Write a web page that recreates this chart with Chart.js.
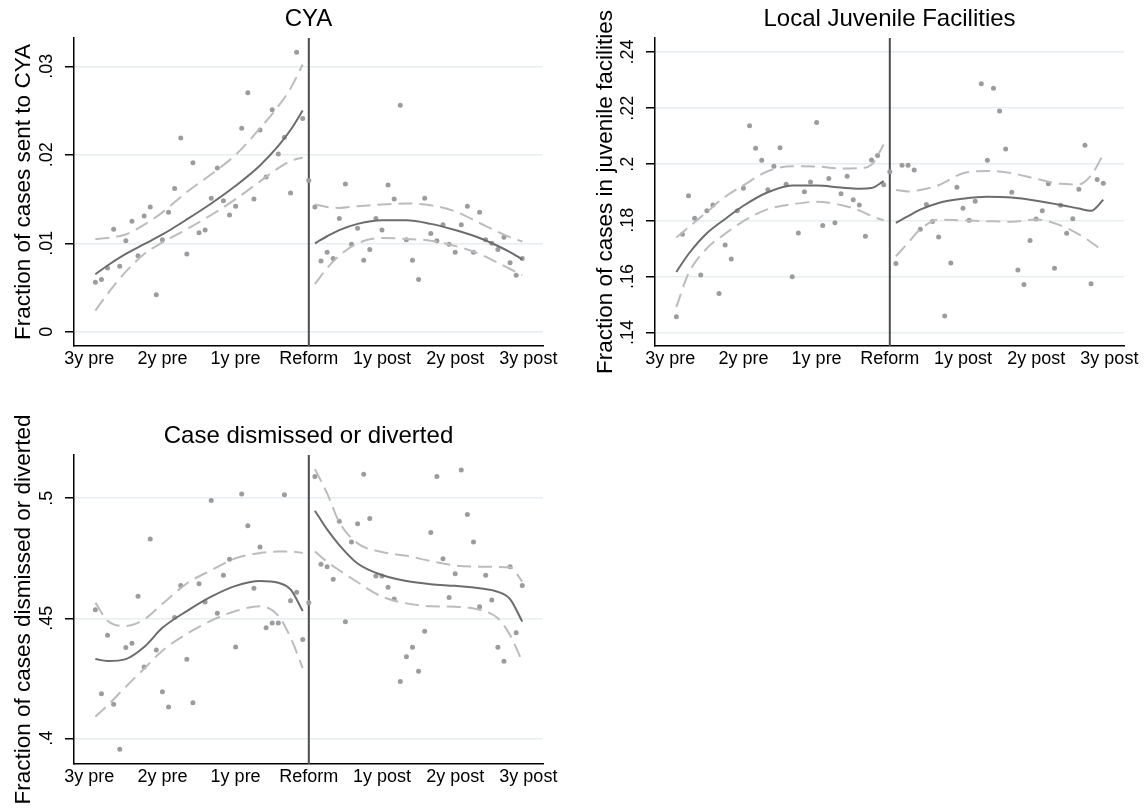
<!DOCTYPE html>
<html lang="en">
<head>
<meta charset="UTF-8">
<title>Before / after reform</title>
<script src="https://cdn.jsdelivr.net/npm/chart.js@4.4.1/dist/chart.umd.min.js"></script>
<style>
  html, body { margin: 0; padding: 0; background: #fff; }
  body { width: 1145px; height: 810px; position: relative; overflow: hidden; }
  .panel { position: absolute; }
</style>
</head>
<body>
<div class="panel" style="left:0;top:0;width:572px;height:385px"><canvas id="cya"></canvas></div>
<div class="panel" style="left:572px;top:0;width:573px;height:385px"><canvas id="juv"></canvas></div>
<div class="panel" style="left:0;top:395px;width:572px;height:415px"><canvas id="dism"></canvas></div>

<script>
// months relative to the reform
const preMonths = [-35,-34,-33,-32,-31,-30,-29,-28,-27,-26,-25,-24,-23,-22,-21,-20,-19,-18,-17,-16,-15,-14,-13,-12,-11,-10,-9,-8,-7,-6,-5,-4,-3,-2,-1,0];
const postMonths = [1,2,3,4,5,6,7,8,9,10,11,12,13,14,15,16,17,18,19,20,21,22,23,24,25,26,27,28,29,30,31,32,33,34,35];
const fitPreX = [-35,-33,-30,-27,-24,-20,-16,-12,-8,-5,-3,-1];
const fitPostX = [1,3,5,8,12,16,20,24,28,31,33,35];

const xTickVals = [-36,-24,-12,0,12,24,36];
const xTickLabels = ['3y pre','2y pre','1y pre','Reform','1y post','2y post','3y post'];

// CYA
const cyaPre = [0.0056,0.0059,0.0072,0.0116,0.0074,0.0103,0.0125,0.0086,0.0131,0.0141,0.0042,0.0104,0.0135,0.0162,0.0219,0.0088,0.0191,0.0112,0.0115,0.0151,0.0185,0.0148,0.0132,0.0142,0.0230,0.0270,0.0150,0.0228,0.0175,0.0251,0.0201,0.0220,0.0157,0.0316,0.0241,0.0171];
const cyaPost = [0.0141,0.0080,0.0090,0.0083,0.0128,0.0167,0.0099,0.0117,0.0081,0.0093,0.0128,0.0115,0.0166,0.0150,0.0256,0.0104,0.0081,0.0059,0.0151,0.0111,0.0103,0.0121,0.0099,0.0090,0.0121,0.0142,0.0090,0.0135,0.0104,0.0100,0.0093,0.0107,0.0078,0.0064,0.0083];
const cyaPreFit = [0.0065,0.0075,0.0088,0.0099,0.0110,0.0127,0.0145,0.0165,0.0188,0.0210,0.0228,0.0250];
const cyaPreHi = [0.0105,0.0106,0.0110,0.0121,0.0135,0.0158,0.0178,0.0200,0.0230,0.0255,0.0275,0.0302];
const cyaPreLo = [0.0024,0.0043,0.0068,0.0088,0.0101,0.0116,0.0132,0.0150,0.0170,0.0185,0.0193,0.0197];
const cyaPostFit = [0.0100,0.0108,0.0115,0.0122,0.0126,0.0126,0.0122,0.0115,0.0106,0.0097,0.0090,0.0082];
const cyaPostHi = [0.0144,0.0141,0.0140,0.0142,0.0144,0.0145,0.0143,0.0136,0.0123,0.0113,0.0107,0.0102];
const cyaPostLo = [0.0054,0.0072,0.0086,0.0100,0.0106,0.0105,0.0103,0.0097,0.0088,0.0078,0.0071,0.0064];
const cyaTicks = [0, 0.01, 0.02, 0.03];
const cyaTickLabels = ['0', '.01', '.02', '.03'];

// Local juvenile facilities
const juvPre = [0.1456,0.1750,0.1888,0.1807,0.1605,0.1834,0.1855,0.1539,0.1712,0.1662,0.1834,0.1914,0.2137,0.2057,0.2014,0.1909,0.1993,0.2059,0.1929,0.1599,0.1755,0.1902,0.1937,0.2149,0.1782,0.1949,0.1791,0.1895,0.1957,0.1873,0.1855,0.1743,0.2015,0.2031,0.1927,0.1973];
const juvPost = [0.1646,0.1996,0.1996,0.1979,0.1768,0.1856,0.1796,0.1741,0.1459,0.1648,0.1918,0.1843,0.1800,0.1868,0.2287,0.2014,0.2271,0.2190,0.2054,0.1900,0.1623,0.1571,0.1728,0.1805,0.1834,0.1930,0.1629,0.1854,0.1754,0.1806,0.1911,0.2068,0.1574,0.1946,0.1932];
const juvPreFit = [0.1616,0.1680,0.1754,0.1805,0.1852,0.1900,0.1924,0.1924,0.1917,0.1913,0.1915,0.1940];
const juvPreHi = [0.1739,0.1775,0.1830,0.1884,0.1925,0.1975,0.1993,0.1992,0.1985,0.1986,0.1998,0.2070];
const juvPreLo = [0.1491,0.1611,0.1700,0.1752,0.1797,0.1840,0.1857,0.1866,0.1855,0.1835,0.1815,0.1800];
const juvPostFit = [0.1791,0.1815,0.1838,0.1862,0.1877,0.1884,0.1881,0.1870,0.1855,0.1842,0.1834,0.1873];
const juvPostHi = [0.1908,0.1903,0.1908,0.1925,0.1968,0.1976,0.1968,0.1948,0.1930,0.1928,0.1960,0.2035];
const juvPostLo = [0.1672,0.1720,0.1768,0.1802,0.1800,0.1797,0.1795,0.1803,0.1782,0.1750,0.1722,0.1690];
const juvTicks = [0.14, 0.16, 0.18, 0.2, 0.22, 0.24];
const juvTickLabels = ['.14', '.16', '.18', '.2', '.22', '.24'];

// Case dismissed or diverted
const dismPre = [0.4535,0.4186,0.4429,0.4142,0.3954,0.4378,0.4396,0.4592,0.4297,0.4830,0.4368,0.4194,0.4130,0.4503,0.4636,0.4329,0.4148,0.4644,0.4568,0.4990,0.4521,0.4679,0.4746,0.4380,0.5018,0.4885,0.4625,0.4797,0.4461,0.4480,0.4480,0.5014,0.4573,0.4608,0.4412,0.4565];
const dismPost = [0.5090,0.4725,0.4715,0.4662,0.4904,0.4485,0.4818,0.4894,0.5100,0.4915,0.4676,0.4676,0.4629,0.4580,0.4237,0.4340,0.4379,0.4279,0.4446,0.4857,0.5090,0.4748,0.4586,0.4685,0.5118,0.4932,0.4818,0.4548,0.4679,0.4576,0.4379,0.4321,0.4715,0.4440,0.4636];
const dismPreFit = [0.4330,0.4322,0.4330,0.4380,0.4460,0.4530,0.4590,0.4635,0.4655,0.4648,0.4620,0.4530];
const dismPreHi = [0.4565,0.4490,0.4468,0.4495,0.4560,0.4645,0.4700,0.4750,0.4772,0.4778,0.4778,0.4772];
const dismPreLo = [0.4090,0.4137,0.4215,0.4290,0.4365,0.4435,0.4490,0.4530,0.4550,0.4510,0.4420,0.4292];
const dismPostFit = [0.4948,0.4870,0.4805,0.4728,0.4680,0.4655,0.4642,0.4635,0.4625,0.4610,0.4580,0.4486];
const dismPostHi = [0.5121,0.5020,0.4900,0.4812,0.4776,0.4760,0.4738,0.4720,0.4715,0.4714,0.4712,0.4653];
const dismPostLo = [0.4778,0.4735,0.4700,0.4650,0.4590,0.4562,0.4550,0.4548,0.4535,0.4500,0.4430,0.4319];
const dismTicks = [0.4, 0.45, 0.5];
const dismTickLabels = ['.4', '.45', '.5'];

Chart.defaults.font.family = "'Liberation Sans', Arial, Helvetica, sans-serif";
Chart.defaults.color = '#000';
Chart.defaults.animation = false;

const DOT = '#9c9c9c';
const FIT = '#6c6c6c';
const BAND = '#bcbcbc';

function xy(xs, ys) {
  return xs.map((x, i) => ({ x: x, y: ys[i] }));
}

function curve(data, color, dash) {
  return {
    type: 'line', data: data, borderColor: color, borderWidth: 2,
    borderDash: dash, pointRadius: 0, fill: false,
    cubicInterpolationMode: 'monotone'
  };
}

function dots(data) {
  return { type: 'scatter', data: data, pointRadius: 2.5, pointBackgroundColor: DOT, pointBorderWidth: 0 };
}

function panel(id, p) {
  new Chart(document.getElementById(id), {
    type: 'scatter',
    data: {
      datasets: [
        curve(xy(fitPreX, p.preFit), FIT, []),
        curve(xy(fitPostX, p.postFit), FIT, []),
        curve(xy(fitPreX, p.preHi), BAND, [14, 7]),
        curve(xy(fitPreX, p.preLo), BAND, [14, 7]),
        curve(xy(fitPostX, p.postHi), BAND, [14, 7]),
        curve(xy(fitPostX, p.postLo), BAND, [14, 7]),
        dots(xy(preMonths, p.pre)),
        dots(xy(postMonths, p.post)),
        // reform line
        { type: 'line', data: [{ x: 0, y: p.yMin }, { x: 0, y: p.yMax }],
          borderColor: '#4d4d4d', borderWidth: 2, pointRadius: 0 }
      ]
    },
    options: {
      responsive: true,
      maintainAspectRatio: false,
      layout: { padding: { left: 0, right: p.padR, top: 0, bottom: 0 } },
      plugins: {
        legend: { display: false },
        tooltip: { enabled: false }
      },
      scales: {
        // empty top axis, only carries the panel title centred over the plot
        top: {
          type: 'linear', position: 'top', min: -38.5, max: 38.4,
          afterFit: s => { s.height = p.topH; },
          ticks: { display: false },
          grid: { display: false, drawTicks: false },
          border: { display: false },
          title: {
            display: true, text: p.title, color: '#000',
            font: { size: 24 }, padding: { top: p.titlePad, bottom: 0 }
          }
        },
        x: {
          type: 'linear', position: 'bottom', min: -38.5, max: 38.4,
          afterBuildTicks: s => { s.ticks = xTickVals.map(v => ({ value: v })); },
          afterFit: s => { s.height = p.xAxisH; },
          ticks: {
            callback: (v, i) => xTickLabels[i],
            font: { size: 18 }, color: '#000', padding: 2,
            maxRotation: 0, autoSkip: false
          },
          grid: { display: false, drawTicks: false },
          border: { display: true, color: '#000', width: 1.5 }
        },
        y: {
          min: p.yMin, max: p.yMax,
          afterBuildTicks: s => { s.ticks = p.ticks.map(v => ({ value: v })); },
          afterFit: s => { s.width = p.yAxisW; },
          ticks: {
            callback: (v, i) => p.tickLabels[i],
            font: { size: 18 }, color: '#000', padding: 5,
            minRotation: 90, maxRotation: 90, crossAlign: 'center'
          },
          grid: {
            color: '#e6eef2', lineWidth: 1.5,
            drawTicks: true, tickLength: 9, tickColor: '#000', tickWidth: 1.5
          },
          border: { display: true, color: '#000', width: 1.5 },
          title: {
            display: true, text: p.yTitle, color: '#000',
            font: { size: 22.5 }, padding: { top: p.yTitlePad, bottom: 0 }
          }
        }
      }
    }
  });
}

panel('cya', {
  title: 'CYA', yTitle: 'Fraction of cases sent to CYA',
  pre: cyaPre, post: cyaPost,
  preFit: cyaPreFit, preHi: cyaPreHi, preLo: cyaPreLo,
  postFit: cyaPostFit, postHi: cyaPostHi, postLo: cyaPostLo,
  ticks: cyaTicks, tickLabels: cyaTickLabels,
  yMin: -0.0016, yMax: 0.0332,
  yAxisW: 74, xAxisH: 39, topH: 38, titlePad: 5.1, padR: 29, yTitlePad: 10.7
});

panel('juv', {
  title: 'Local Juvenile Facilities', yTitle: 'Fraction of cases in juvenile facilities',
  pre: juvPre, post: juvPost,
  preFit: juvPreFit, preHi: juvPreHi, preLo: juvPreLo,
  postFit: juvPostFit, postHi: juvPostHi, postLo: juvPostLo,
  ticks: juvTicks, tickLabels: juvTickLabels,
  yMin: 0.1352, yMax: 0.245,
  yAxisW: 83, xAxisH: 39, topH: 38, titlePad: 5.1, padR: 21, yTitlePad: 20
});

panel('dism', {
  title: 'Case dismissed or diverted', yTitle: 'Fraction of cases dismissed or diverted',
  pre: dismPre, post: dismPost,
  preFit: dismPreFit, preHi: dismPreHi, preLo: dismPreLo,
  postFit: dismPostFit, postHi: dismPostHi, postLo: dismPostLo,
  ticks: dismTicks, tickLabels: dismTickLabels,
  yMin: 0.3893, yMax: 0.518,
  yAxisW: 74, xAxisH: 46, topH: 60, titlePad: 26.6, padR: 29, yTitlePad: 10.7
});
</script>
</body>
</html>
